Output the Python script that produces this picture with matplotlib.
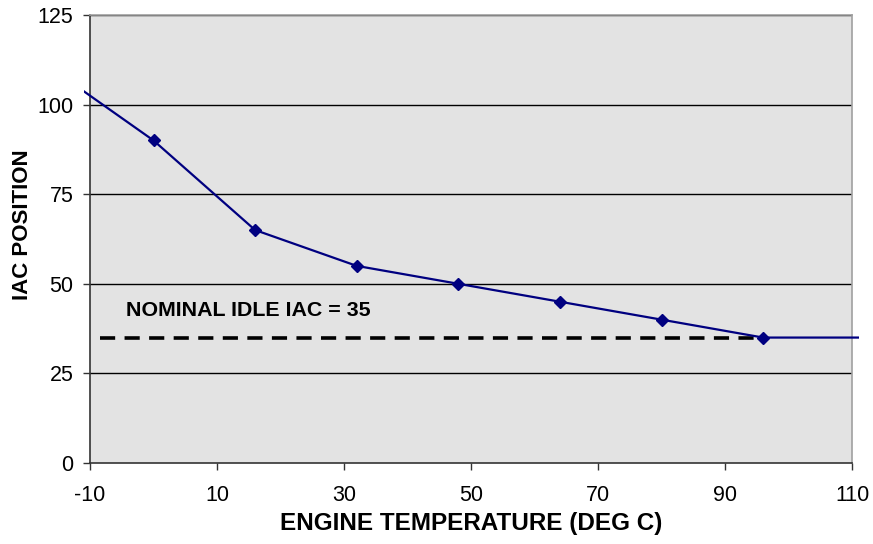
import matplotlib
matplotlib.use("Agg")
import matplotlib.pyplot as plt
import matplotlib.patches as mpatches

# IAC position vs engine temperature
temp = [0, 16, 32, 48, 64, 80, 96]
iac = [90, 65, 55, 50, 45, 40, 35]
# line continues past the plotted range on both sides
temp_ext = [-16, 0, 16, 32, 48, 64, 80, 96, 112]
iac_ext = [110, 90, 65, 55, 50, 45, 40, 35, 35]

nominal_iac = 35
nominal_span = [-8.4, 96]

xticks = [-10, 10, 30, 50, 70, 90, 110]
yticks = [0, 25, 50, 75, 100, 125]

plt.rcParams["font.family"] = ["Liberation Sans", "DejaVu Sans"]

fig = plt.figure(figsize=(8.73, 5.44), dpi=100)
ax = fig.add_axes([0.1031, 0.1489, 0.8729, 0.8235])
ax.set_facecolor("#E3E3E3")

for y in yticks[1:]:
    ax.axhline(y, color="black", linewidth=1.0, zorder=1)

ax.plot(nominal_span, [nominal_iac, nominal_iac], color="black",
        linewidth=2.6, dashes=(4.2, 2.6), zorder=2)

line, = ax.plot(temp_ext, iac_ext, color="#000080", linewidth=1.6, zorder=3)
clip = mpatches.Rectangle((-10.95, 0), 122.0, 125, transform=ax.transData)
line.set_clip_path(clip)
ax.plot(temp, iac, linestyle="none", marker="D", markersize=6,
        color="#000080", zorder=4)

ax.text(-4.3, 39.8, "NOMINAL IDLE IAC = 35", fontsize=15.4, fontweight="bold",
        ha="left", va="bottom")

ax.set_xlim(-10, 110)
ax.set_ylim(0, 125)
ax.set_xticks(xticks)
ax.set_yticks(yticks)
ax.set_xticklabels([str(t) for t in xticks])
ax.tick_params(axis="both", direction="out", length=5, width=1,
               labelsize=15.5, color="#333333")
ax.tick_params(axis="x", pad=11)
ax.tick_params(axis="y", pad=7)

ax.spines["left"].set_color("#333333")
ax.spines["bottom"].set_color("#333333")
ax.spines["right"].set_color("#A0A0A0")
ax.spines["top"].set_color("#A0A0A0")
for s in ax.spines.values():
    s.set_linewidth(1.2)

ax.set_xlabel("ENGINE TEMPERATURE (DEG C)", fontsize=17.5, fontweight="bold",
              labelpad=4)
ax.set_ylabel("IAC POSITION", fontsize=16, fontweight="bold", va="center")
ax.yaxis.set_label_coords(-0.089, 0.533)

fig.savefig("out.png", dpi=100)
